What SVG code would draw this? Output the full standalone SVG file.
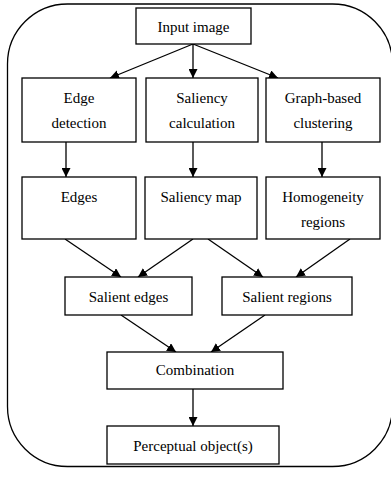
<svg xmlns="http://www.w3.org/2000/svg" width="391" height="477" viewBox="0 0 391 477">
<style>
.box{fill:#fff;stroke:#000;stroke-width:1.3}
.t{font-size:15px;fill:#000;text-anchor:middle}
.c{stroke:#000;stroke-width:1.3;fill:none;marker-end:url(#ah)}
</style>
<defs>
<marker id="ah" viewBox="0 0 10 10" refX="10" refY="5" markerWidth="9" markerHeight="9" markerUnits="userSpaceOnUse" orient="auto">
<path d="M0,0 L10,5 L0,10 z" fill="#000"/>
</marker>
</defs>
<rect x="7.5" y="4" width="385" height="462.5" rx="60" ry="60" fill="none" stroke="#000" stroke-width="1.3"/>
<g id="connectors">
<line class="c" x1="193" y1="44" x2="110" y2="78"/>
<line class="c" x1="193" y1="44" x2="193" y2="78"/>
<line class="c" x1="193" y1="44" x2="278" y2="78"/>
<line class="c" x1="66" y1="142" x2="66" y2="177"/>
<line class="c" x1="193" y1="142" x2="193" y2="177"/>
<line class="c" x1="322" y1="142" x2="322" y2="177"/>
<line class="c" x1="65" y1="239" x2="121" y2="277"/>
<line class="c" x1="193" y1="239" x2="138" y2="277"/>
<line class="c" x1="208" y1="239" x2="263" y2="277"/>
<line class="c" x1="350" y1="239" x2="296" y2="277"/>
<line class="c" x1="121" y1="315" x2="176" y2="352"/>
<line class="c" x1="265" y1="315" x2="211" y2="352"/>
<line class="c" x1="193" y1="389" x2="193" y2="426"/>
</g>
<g font-family="Liberation Serif">
<g id="input"><rect class="box" x="136" y="8" width="115" height="36"/><text class="t" x="193.5" y="32">Input image</text></g>
<g id="edge-detection"><rect class="box" x="22" y="78" width="114" height="64"/><text class="t" x="79" y="103">Edge</text><text class="t" x="79" y="128">detection</text></g>
<g id="saliency-calc"><rect class="box" x="146" y="78" width="112" height="64"/><text class="t" x="202" y="103">Saliency</text><text class="t" x="202" y="128">calculation</text></g>
<g id="graph-clustering"><rect class="box" x="266" y="78" width="114" height="64"/><text class="t" x="323" y="103">Graph-based</text><text class="t" x="323" y="128">clustering</text></g>
<g id="edges"><rect class="box" x="22" y="177" width="114" height="62"/><text class="t" x="79" y="202">Edges</text></g>
<g id="saliency-map"><rect class="box" x="145" y="177" width="112" height="62"/><text class="t" x="201" y="202">Saliency map</text></g>
<g id="homogeneity"><rect class="box" x="266" y="177" width="114" height="62"/><text class="t" x="323" y="202">Homogeneity</text><text class="t" x="323" y="227">regions</text></g>
<g id="salient-edges"><rect class="box" x="65" y="277" width="127" height="38"/><text class="t" x="128.5" y="301.5">Salient edges</text></g>
<g id="salient-regions"><rect class="box" x="222" y="277" width="130" height="38"/><text class="t" x="287" y="301.5">Salient regions</text></g>
<g id="combination"><rect class="box" x="107" y="352" width="176" height="37"/><text class="t" x="195" y="375">Combination</text></g>
<g id="perceptual"><rect class="box" x="107" y="426" width="172" height="38"/><text class="t" x="193" y="451">Perceptual object(s)</text></g>
</g>
</svg>
